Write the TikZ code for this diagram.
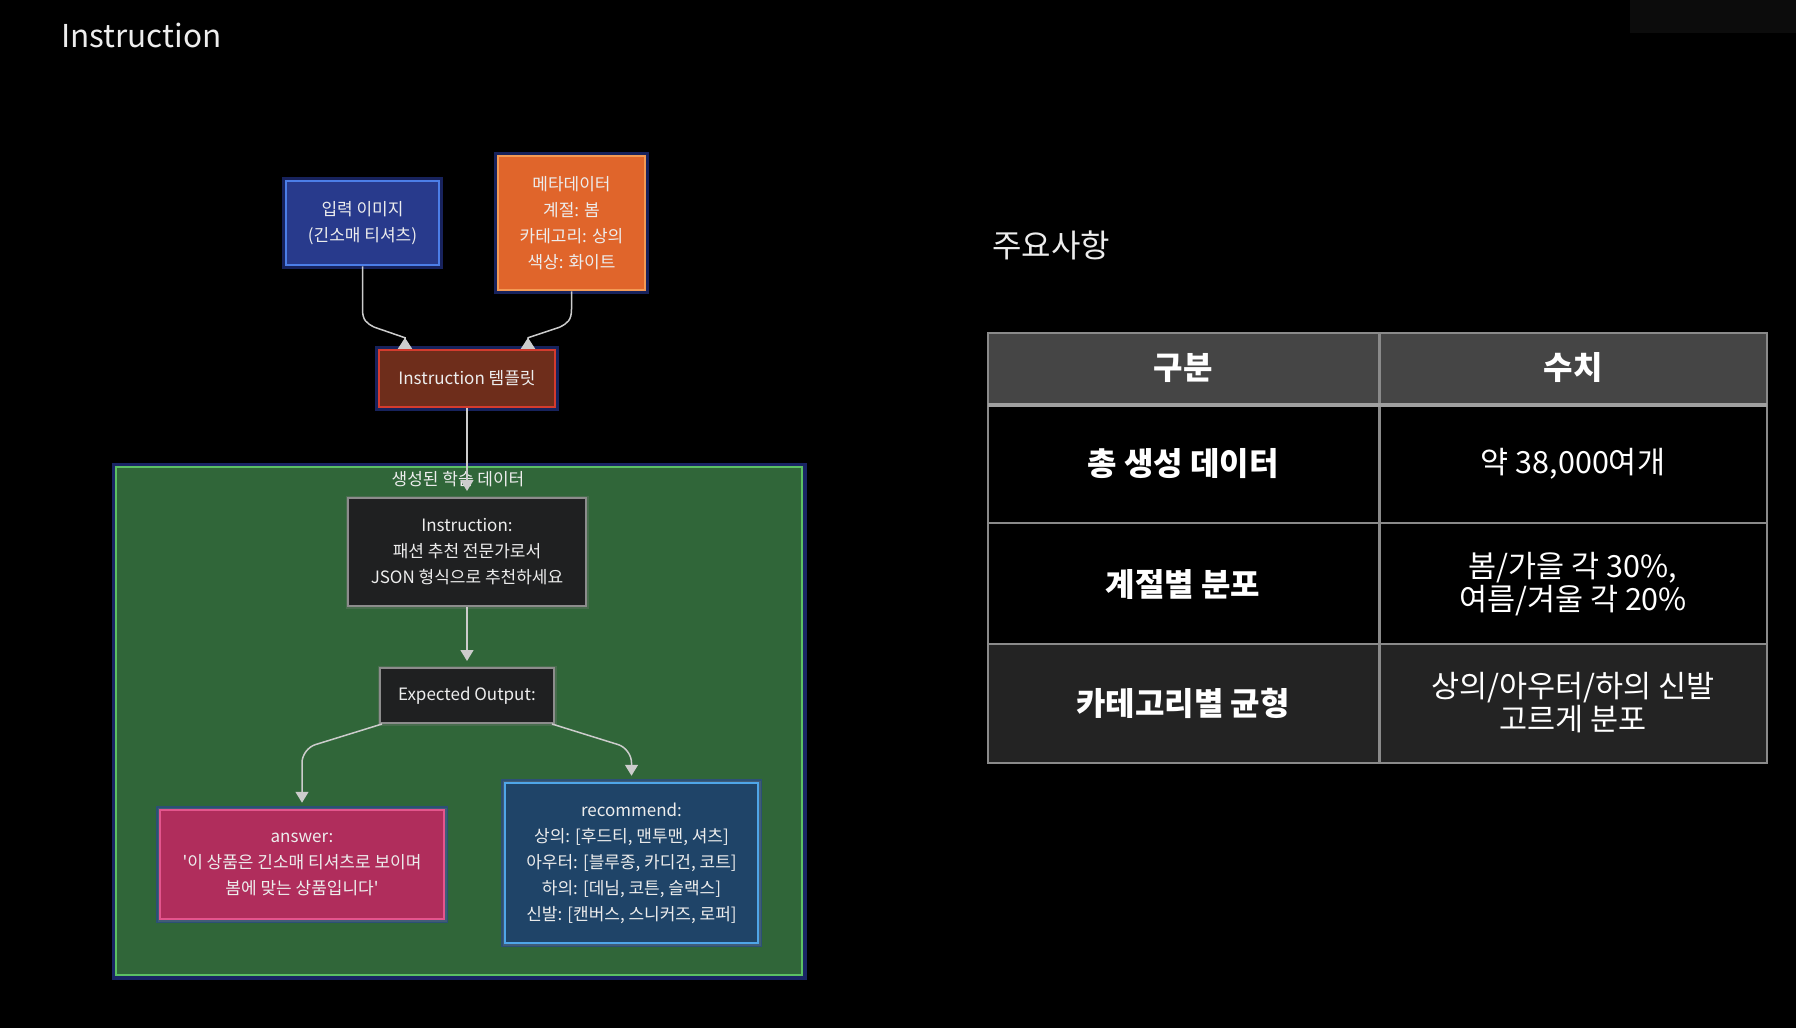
\documentclass[tikz,border=0pt]{standalone}
\usepackage{fontspec}
\newfontfamily\kr{Noto Sans CJK KR}
\usetikzlibrary{arrows.meta,calc}
\definecolor{txt}{HTML}{EDEDED}
\definecolor{connC}{HTML}{CCCCCC}
\definecolor{blueF}{HTML}{283A8C}
\definecolor{blueD}{HTML}{4C7EE8}
\definecolor{orF}{HTML}{E0652B}
\definecolor{orD}{HTML}{F39A55}
\definecolor{tplF}{HTML}{6E2D1B}
\definecolor{tplD}{HTML}{D43B2E}
\definecolor{grF}{HTML}{306639}
\definecolor{grD}{HTML}{5CC063}
\definecolor{insF}{HTML}{1F2021}
\definecolor{insD}{HTML}{8C8C8C}
\definecolor{ansF}{HTML}{B02D5C}
\definecolor{ansD}{HTML}{E4558D}
\definecolor{recF}{HTML}{1F4468}
\definecolor{recD}{HTML}{4FA6E8}
\definecolor{glowC}{HTML}{2A3FA8}
\definecolor{thF}{HTML}{454545}
\definecolor{rowthree}{HTML}{232323}
\definecolor{gridC}{HTML}{8A8A8A}
\definecolor{gridH}{HTML}{A0A0A0}
\definecolor{corner}{HTML}{0C0C0C}
\tikzset{
  fbox/.style={draw, line width=2.5pt, align=center, text=txt, inner sep=0pt,
    font=\kr\fontsize{17}{26}\selectfont,
    preaction={draw=glowC, line width=8pt, opacity=0.55}},
  gbox/.style={draw=insD, fill=insF, line width=2pt, align=center, text=txt, inner sep=0pt,
    font=\kr\fontsize{17}{26}\selectfont,
    preaction={draw=gray, line width=5pt, opacity=0.3}},
  conn/.style={draw=connC, line width=1.5pt},
  downtip/.style={-{Triangle[length=11pt,width=13pt]}, shorten >=6pt},
  uptip/.style={-{Triangle[reversed,length=11pt,width=14pt]}},
  cellb/.style={text=white, font=\kr\bfseries\fontsize{32}{33}\selectfont, align=center},
  cellr/.style={text=white, font=\kr\fontsize{30.5}{33}\selectfont, align=center},
}
\begin{document}
\begin{tikzpicture}[x=1pt,y=-1pt]
\fill[black] (0,0) rectangle (1796,1028);
\useasboundingbox (0,0) rectangle (1796,1028);
\fill[corner] (1630,0) rectangle (1796,33);

% titles
\node[anchor=base west, inner sep=0, text=txt, font=\kr\fontsize{31.5}{40}\selectfont] (title) at (61,47) {Instruction};
\node[anchor=west, inner sep=0, text=txt, font=\kr\fontsize{32}{36}\selectfont] (notes) at (992,245) {주요사항};

% top boxes
\node[fbox, fill=blueF, draw=blueD, minimum width=153pt, minimum height=84pt] (img) at (362.5,223) {입력 이미지\\(긴소매 티셔츠)};
\node[fbox, fill=orF, draw=orD, minimum width=147pt, minimum height=134pt] (meta) at (571.5,223) {메타데이터\\계절: 봄\\카테고리: 상의\\색상: 화이트};
\node[fbox, fill=tplF, draw=tplD, minimum width=176pt, minimum height=57pt] (tpl) at (467,378.5) {Instruction 템플릿};

% container
\node[draw=grD, fill=grF, line width=2.5pt, minimum width=686pt, minimum height=508pt, inner sep=0pt,
  preaction={draw=glowC, line width=9pt, opacity=0.6}] (grp) at (459,721) {};
\node[inner sep=0, text=txt, font=\kr\fontsize{17}{20}\selectfont] (grplbl) at (458,479) {생성된 학습 데이터};

\node[gbox, minimum width=238pt, minimum height=108pt] (ins) at (467,552) {Instruction:\\패션 추천 전문가로서\\JSON 형식으로 추천하세요};
\node[gbox, minimum width=174pt, minimum height=55pt] (eo) at (467,695.5) {Expected Output:};
\node[fbox, fill=ansF, draw=ansD, minimum width=284pt, minimum height=109pt, preaction={draw=gray, line width=5pt, opacity=0.25}] (ans) at (302,864.5) {answer:\\'이 상품은 긴소매 티셔츠로 보이며\\봄에 맞는 상품입니다'};
\node[fbox, fill=recF, draw=recD, minimum width=253pt, minimum height=160pt, preaction={draw=gray, line width=5pt, opacity=0.25}] (rec) at (631.5,863) {recommend:\\상의: [후드티, 맨투맨, 셔츠]\\아우터: [블루종, 카디건, 코트]\\하의: [데님, 코튼, 슬랙스]\\신발: [캔버스, 스니커즈, 로퍼]};

% connectors
\draw[conn, uptip] (img.south) -- ($(img.south)+(0,43)$)
  .. controls ($(img.south)+(0,54)$) and ($(img.south)+(4,57)$) .. ($(img.south)+(12,61)$)
  -- ($(tpl.north)+(-62,-11)$) -- ($(tpl.north)+(-62,0)$);
\draw[conn, uptip] (meta.south) -- ($(meta.south)+(0,18)$)
  .. controls ($(meta.south)+(0,29)$) and ($(meta.south)+(-4,32)$) .. ($(meta.south)+(-12,36)$)
  -- ($(tpl.north)+(61,-11)$) -- ($(tpl.north)+(61,0)$);
\draw[conn, downtip] (tpl.south) -- (ins.north);
\draw[conn, downtip] (ins.south) -- (eo.north);
\draw[conn, downtip, rounded corners=14pt] ([xshift=3pt]eo.south west) -- ($(ans.north)+(0,-60)$) -- (ans.north);
\draw[conn, downtip, rounded corners=14pt] ([xshift=-3pt]eo.south east) -- ($(rec.north)+(0,-33)$) -- (rec.north);

% table
\fill[thF] (988,333) rectangle (1767,404);
\fill[black] (988,404) rectangle (1767,644);
\fill[rowthree] (988,644) rectangle (1767,763);
\draw[gridC, line width=2.5pt] (988,333) rectangle (1767,763);
\draw[gridC, line width=2.5pt] (1379.5,333) -- (1379.5,763);
\draw[gridC, line width=2.5pt] (988,523) -- (1767,523);
\draw[gridC, line width=2.5pt] (988,644) -- (1767,644);
\draw[gridH, line width=4.5pt] (988,405) -- (1767,405);

\node[cellb] (h1) at (1183,368) {구분};
\node[cellb] (h2) at (1573,368) {수치};
\node[cellb] (a1) at (1183,464) {총 생성 데이터};
\node[cellr] (b1) at (1573,464) {약 38,000여개};
\node[cellb] (a2) at (1183,584) {계절별 분포};
\node[cellr] (b2) at (1573,584) {봄/가을 각 30\%,\\여름/겨울 각 20\%};
\node[cellb] (a3) at (1183,703) {카테고리별 균형};
\node[cellr] (b3) at (1573,703) {상의/아우터/하의 신발\\고르게 분포};
\end{tikzpicture}
\end{document}
